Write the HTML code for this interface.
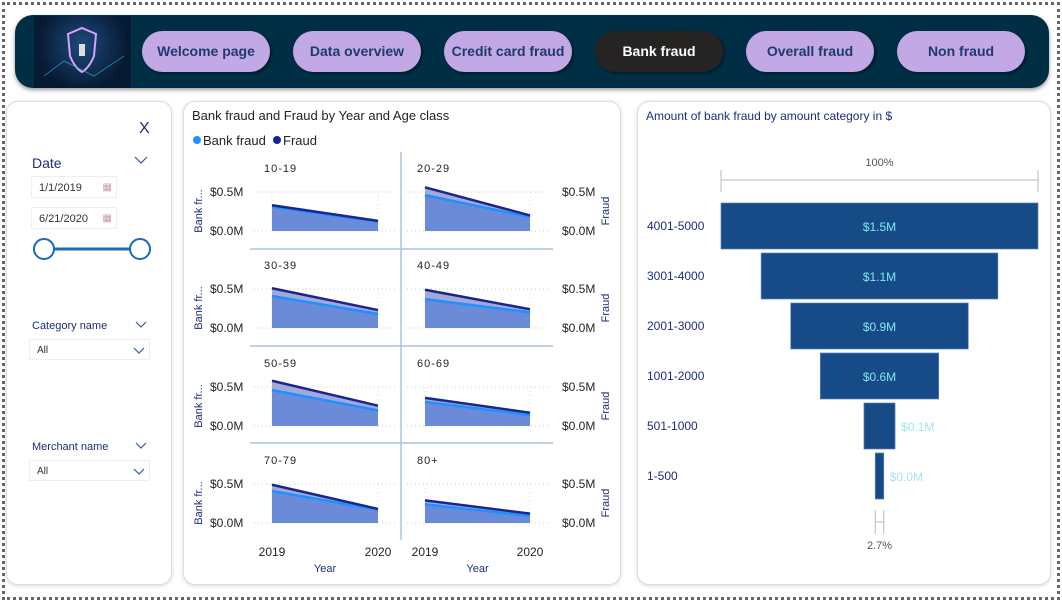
<!DOCTYPE html>
<html><head><meta charset="utf-8"><style>
*{box-sizing:border-box;margin:0;padding:0}
body{width:1062px;height:602px;background:#fff;font-family:"Liberation Sans",sans-serif;position:relative;overflow:hidden}
.frame{position:absolute;left:2px;top:2px;width:1058px;height:598px;border:3px dotted #666}
.nav{position:absolute;left:15px;top:15px;width:1034px;height:73px;background:#002f45;border-radius:18px;box-shadow:0 2px 4px #999}
.logo{position:absolute;left:34px;top:16px;width:97px;height:72px;background:radial-gradient(circle at 50% 40%,#1c4a7a,#061a33 70%)}
.btn{position:absolute;top:31px;height:41px;border-radius:21px;background:#c2a8e4;color:#1f3a6e;font-weight:bold;font-size:14px;text-align:center;line-height:41px;box-shadow:2px 2px 3px rgba(0,0,0,.4)}
.btn.act{background:#252423;color:#fff}
.card{position:absolute;background:#fff;border:1px solid #ddd;border-radius:12px;box-shadow:0 1px 4px rgba(0,0,0,.15)}
.t{position:absolute;font-size:12px;color:#252423;white-space:nowrap}
.box{position:absolute;border:1px solid #eee;font-size:11px;color:#333;padding-left:7px}
.chev{position:absolute}
</style></head><body>
<div class="frame"></div>
<div class="nav"></div>
<div class="logo">
<svg width="97" height="72"><path d="M48 12 L62 18 L60 40 Q55 52 48 56 Q41 52 36 40 L34 18Z" fill="none" stroke="#d8a0ff" stroke-width="2"/><rect x="45" y="28" width="6" height="12" fill="#ddd"/><path d="M10 60 L30 45 L60 60 L90 40" stroke="#2ab8e0" fill="none" opacity=".6"/></svg></div>
<div class="btn" style="left:142px;width:128px">Welcome page</div>
<div class="btn" style="left:293px;width:128px">Data overview</div>
<div class="btn" style="left:444px;width:128px">Credit card fraud</div>
<div class="btn act" style="left:595px;width:128px">Bank fraud</div>
<div class="btn" style="left:746px;width:128px">Overall fraud</div>
<div class="btn" style="left:897px;width:128px">Non fraud</div>

<div class="card" style="left:6px;top:101px;width:166px;height:484px"></div>
<div class="t" style="left:139px;top:120px;font-size:16px;color:#1f2d7a">X</div>
<div class="t" style="left:32px;top:155px;font-size:14px;color:#1f2d7a">Date</div>
<svg class="chev" style="left:134px;top:156px" width="14" height="9"><polyline points="1,1 7,7 13,1" fill="none" stroke="#3a5a9a" stroke-width="1.2"/></svg>
<div class="box" style="left:31px;top:176px;width:86px;height:22px;line-height:22px">1/1/2019<span style="position:absolute;right:4px;color:#c9a;font-size:10px">▦</span></div>
<div class="box" style="left:31px;top:207px;width:86px;height:22px;line-height:22px">6/21/2020<span style="position:absolute;right:4px;color:#c9a;font-size:10px">▦</span></div>
<svg style="position:absolute;left:30px;top:236px" width="125" height="26"><line x1="14" y1="13" x2="110" y2="13" stroke="#1a6bb8" stroke-width="3"/><circle cx="14" cy="13" r="10" fill="#fff" stroke="#1a6bb8" stroke-width="2"/><circle cx="110" cy="13" r="10" fill="#fff" stroke="#1a6bb8" stroke-width="2"/></svg>
<div class="t" style="left:32px;top:320px;font-size:11px;color:#1f2d7a">Category name</div>
<svg class="chev" style="left:135px;top:321px" width="12" height="8"><polyline points="1,1 6,6 11,1" fill="none" stroke="#3a5a9a" stroke-width="1.2"/></svg>
<div class="box" style="left:29px;top:339px;width:121px;height:21px;line-height:21px;font-size:10px">All<svg style="position:absolute;right:4px;top:7px" width="12" height="8"><polyline points="1,1 6,6 11,1" fill="none" stroke="#3a5a9a" stroke-width="1.2"/></svg></div>
<div class="t" style="left:32px;top:441px;font-size:11px;color:#1f2d7a">Merchant name</div>
<svg class="chev" style="left:135px;top:442px" width="12" height="8"><polyline points="1,1 6,6 11,1" fill="none" stroke="#3a5a9a" stroke-width="1.2"/></svg>
<div class="box" style="left:29px;top:460px;width:121px;height:21px;line-height:21px;font-size:10px">All<svg style="position:absolute;right:4px;top:7px" width="12" height="8"><polyline points="1,1 6,6 11,1" fill="none" stroke="#3a5a9a" stroke-width="1.2"/></svg></div>

<div class="card" style="left:183px;top:101px;width:438px;height:484px"></div>
<svg id="sm" style="position:absolute;left:0;top:0" width="1062" height="602"></svg>

<div class="card" style="left:637px;top:101px;width:414px;height:484px"></div>
<svg id="fn" style="position:absolute;left:0;top:0" width="1062" height="602"></svg>

<script>
const ageClasses=["10-19","20-29","30-39","40-49","50-59","60-69","70-79","80+"];
const years=["2019","2020"];
const bankFraud=[[0.31,0.12],[0.46,0.18],[0.41,0.18],[0.37,0.20],[0.46,0.20],[0.31,0.14],[0.41,0.17],[0.24,0.09]];
const fraud=[[0.33,0.13],[0.56,0.20],[0.51,0.23],[0.49,0.24],[0.58,0.26],[0.36,0.17],[0.49,0.18],[0.29,0.12]];
const yTicks=[0,0.5];
const yTickLabels=["$0.0M","$0.5M"];

const categories=["4001-5000","3001-4000","2001-3000","1001-2000","501-1000","1-500"];
const amounts=[1.5,1.12,0.84,0.56,0.147,0.04];
const amountLabels=["$1.5M","$1.1M","$0.9M","$0.6M","$0.1M","$0.0M"];

const NS="http://www.w3.org/2000/svg";
function mk(svg,tag,attrs,text){const e=document.createElementNS(NS,tag);for(const k in attrs)e.setAttribute(k,attrs[k]);if(text!==undefined)e.textContent=text;svg.appendChild(e);return e;}

const sm=document.getElementById('sm');
let e;
e=mk(sm,'text',{x:192,y:120,'font-size':13,fill:'#252423'},'Bank fraud and Fraud by Year and Age class');


e=mk(sm,'circle',{cx:197,cy:140,r:4,fill:'#1e90ff'});


e=mk(sm,'text',{x:203,y:145,'font-size':13,fill:'#252423'},'Bank fraud');


e=mk(sm,'circle',{cx:277,cy:140,r:4,fill:'#12239e'});


e=mk(sm,'text',{x:283,y:145,'font-size':13,fill:'#252423'},'Fraud');


e=mk(sm,'line',{x1:401,y1:152,x2:401,y2:540,stroke:'#a8c4e0','stroke-width':1.5});


[249,346,443].forEach(y=>{e=mk(sm,'line',{x1:250,y1:y,x2:553,y2:y,stroke:'#a8c4e0','stroke-width':1.5});

});

const colX=[[272,378],[425,530]];
const baseY=[231,328,426,523];
const pxPerM=78;
function xs(col,i){return colX[col][0]+(colX[col][1]-colX[col][0])*i/(years.length-1);}
function ys(row,v){return baseY[row]-v*pxPerM;}
ageClasses.forEach((ac,k)=>{
  const row=Math.floor(k/2),col=k%2;
  const g=mk(sm,'g',{});
  
  
  e=mk(g,'text',{x:colX[col][0]-8,y:baseY[row]-59,'font-size':11,fill:'#252423','letter-spacing':'1'},ac);
  
  
  yTicks.forEach((t,i)=>{
    e=mk(g,'line',{x1:colX[col][0]-18,y1:ys(row,t),x2:colX[col][1]+20,y2:ys(row,t),stroke:'#ccc','stroke-dasharray':'1,3'});
    
    
  });
  years.forEach((y,i)=>{e=mk(g,'line',{x1:xs(col,i),y1:ys(row,0.5),x2:xs(col,i),y2:baseY[row],stroke:'#ddd','stroke-dasharray':'1,3'});
    
    });
  const fp=fraud[k].map((v,i)=>xs(col,i)+','+ys(row,v)).join(' ');
  const bp=bankFraud[k].map((v,i)=>xs(col,i)+','+ys(row,v)).join(' ');
  e=mk(g,'polygon',{points:xs(col,0)+','+baseY[row]+' '+fp+' '+xs(col,1)+','+baseY[row],fill:'#a4a8d8'});
  
  
  e=mk(g,'polygon',{points:xs(col,0)+','+baseY[row]+' '+bp+' '+xs(col,1)+','+baseY[row],fill:'#6b8bd8'});
  
  
  e=mk(g,'polyline',{points:bp,fill:'none',stroke:'#1e90ff','stroke-width':2.5});
  
  
  e=mk(g,'polyline',{points:fp,fill:'none',stroke:'#1a2590','stroke-width':2.5});
  
  
  yTicks.forEach((t,i)=>{
    const x=col===0?210:562;
    e=mk(g,'text',{x:x,y:ys(row,t)+4,'font-size':12,fill:'#252423'},yTickLabels[i]);
    
    
  });
  const ax=col===0?202:609, ay=baseY[row]-20;
  e=mk(g,'text',{x:ax,y:ay,'font-size':11,fill:'#1f2d7a','text-anchor':'middle',transform:`rotate(-90 ${ax} ${ay})`},col===0?'Bank fr...':'Fraud');
  
  
});
[0,1].forEach(col=>{
  years.forEach((y,i)=>{e=mk(sm,'text',{x:xs(col,i),y:556,'font-size':12,fill:'#252423','text-anchor':'middle'},y);
    
    });
  e=mk(sm,'text',{x:(colX[col][0]+colX[col][1])/2,y:572,'font-size':11,fill:'#1f2d7a','text-anchor':'middle'},'Year');
  
  
});

const fn=document.getElementById('fn');
e=mk(fn,'text',{x:646,y:120,'font-size':12,fill:'#1f2d7a'},'Amount of bank fraud by amount category in $');


const cx=879.5, maxW=317, top0=203, step=50, bh=46;
function wOf(v){return v/amounts[0]*maxW;}
e=mk(fn,'text',{x:cx,y:166,'font-size':11,fill:'#555','text-anchor':'middle'},'100%');


e=mk(fn,'path',{d:`M${cx-wOf(amounts[0])/2} 170 v22 M${cx-wOf(amounts[0])/2} 180 H${cx+wOf(amounts[0])/2} M${cx+wOf(amounts[0])/2} 170 v22`,stroke:'#bbb',fill:'none'});


categories.forEach((c,i)=>{
  const w=wOf(amounts[i]), y=top0+i*step;
  e=mk(fn,'rect',{x:cx-w/2,y:y,width:w,height:bh,fill:'#174b87',stroke:'#5b82b8','stroke-width':0.7});
  
  
  e=mk(fn,'text',{x:647,y:y+bh/2+4,'font-size':12,fill:'#1f2d7a'},c);
  
  
  const inside=w>60;
  e=mk(fn,'text',{x:inside?cx:cx+w/2+6,y:y+bh/2+5,'font-size':12,fill:inside?'#7fe8f0':'#9ee6f2','text-anchor':inside?'middle':'start'},amountLabels[i]);
  
  
});
const lw=wOf(amounts[amounts.length-1]);
e=mk(fn,'path',{d:`M${cx-lw/2} 510 v24 M${cx-lw/2} 522 H${cx+lw/2} M${cx+lw/2} 510 v24`,stroke:'#bbb',fill:'none'});


e=mk(fn,'text',{x:cx,y:549,'font-size':11,fill:'#555','text-anchor':'middle'},(amounts[amounts.length-1]/amounts[0]*100).toFixed(1)+'%');


</script>
</body></html>
